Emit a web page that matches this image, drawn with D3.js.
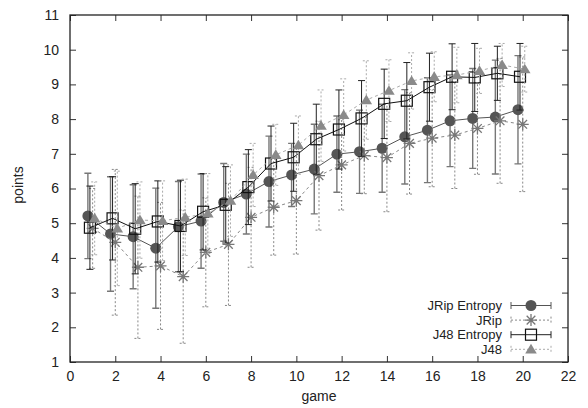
<!DOCTYPE html>
<html><head><meta charset="utf-8">
<script src="https://cdn.jsdelivr.net/npm/d3@7"></script>
<style>
html,body{margin:0;padding:0;background:#fff;}
text{font-family:"Liberation Sans",Arial,Helvetica,sans-serif;}
</style></head>
<body>
<svg id="chart" width="588" height="408"></svg>
<script>
const games = d3.range(1, 21);
const xTicks = [0,2,4,6,8,10,12,14,16,18,20,22];
const yTicks = [1,2,3,4,5,6,7,8,9,10,11];

const jripEntropyMean = [5.21,4.69,4.61,4.28,4.90,5.06,5.60,5.84,6.20,6.39,6.56,6.99,7.06,7.16,7.49,7.68,7.95,8.02,8.06,8.27];
const jripEntropyErr  = [1.23,1.65,1.50,1.73,1.30,1.36,1.12,1.15,1.31,0.91,1.29,1.10,1.20,1.27,1.36,1.51,1.32,1.44,1.64,1.56];
const jripMean = [4.85,4.45,3.73,3.77,3.46,4.16,4.39,5.17,5.46,5.65,6.37,6.68,6.95,6.89,7.30,7.45,7.54,7.73,7.95,7.85];
const jripErr  = [1.15,2.10,2.05,1.83,1.92,1.57,1.76,1.44,1.38,1.54,1.57,1.30,1.10,1.56,1.46,1.40,1.54,1.32,1.80,1.94];
const j48EntropyMean = [4.87,5.14,4.84,5.05,4.92,5.33,5.53,6.04,6.72,6.90,7.42,7.70,8.02,8.44,8.53,8.92,9.22,9.20,9.32,9.22];
const j48EntropyErr  = [1.20,1.20,1.30,1.17,1.32,1.10,1.10,1.08,1.08,0.98,1.01,1.14,1.09,1.00,1.10,0.98,0.95,0.98,0.78,0.96];
const j48Mean = [5.14,4.85,5.09,5.07,5.17,5.28,5.65,6.39,6.97,7.25,7.81,8.12,8.55,8.82,9.10,9.22,9.27,9.39,9.56,9.44];
const j48Err  = [1.05,1.65,1.10,1.15,1.10,1.15,1.03,0.91,0.88,0.84,1.03,1.04,1.13,0.89,0.81,0.72,0.80,0.65,0.62,0.66];

const seriesNames = ["JRip Entropy","JRip","J48 Entropy","J48"];
const seriesShift = [-0.21, 0, -0.12, 0.09];

const series = [
  {name: seriesNames[0], mean: jripEntropyMean, err: jripEntropyErr, shift: seriesShift[0],
   line: "#555", lineDash: null, bar: "#777", barW: 1.4, barDash: null, sym: "circle"},
  {name: seriesNames[1], mean: jripMean, err: jripErr, shift: seriesShift[1],
   line: "#888", lineDash: "3,3", bar: "#888", barW: 1, barDash: "2,2", sym: "star"},
  {name: seriesNames[2], mean: j48EntropyMean, err: j48EntropyErr, shift: seriesShift[2],
   line: "#111", lineDash: null, bar: "#222", barW: 1, barDash: null, sym: "square"},
  {name: seriesNames[3], mean: j48Mean, err: j48Err, shift: seriesShift[3],
   line: "#aaa", lineDash: "3,3", bar: "#aaa", barW: 1, barDash: "2,2", sym: "triangle"}
];

const svg = d3.select("#chart");
const L = 70, R = 568, T = 15, B = 362;
const x = d3.scaleLinear().domain([0,22]).range([L,R]);
const y = d3.scaleLinear().domain([1,11]).range([B,T]);

// axes
const ax = svg.append("g");
ax.append("g").attr("transform",`translate(0,${B})`)
  .call(d3.axisBottom(x).tickValues(xTicks).tickSize(-6).tickPadding(9).tickFormat(d3.format("d")));
ax.append("g").attr("transform",`translate(0,${T})`)
  .call(d3.axisTop(x).tickValues(xTicks).tickSize(-6).tickFormat(""));
ax.append("g").attr("transform",`translate(${L},0)`)
  .call(d3.axisLeft(y).tickValues(yTicks).tickSize(-6).tickPadding(11).tickFormat(d3.format("d")));
ax.append("g").attr("transform",`translate(${R},0)`)
  .call(d3.axisRight(y).tickValues(yTicks).tickSize(-6).tickFormat(""));
ax.selectAll(".domain").remove();
ax.selectAll(".tick line").attr("stroke","#333").attr("stroke-width",1);
ax.selectAll(".tick text").attr("fill","#222").style("font-size","14px")
  .style("font-family","'Liberation Sans',Arial,Helvetica,sans-serif");

svg.append("text").attr("x",(L+R)/2).attr("y",401).attr("text-anchor","middle")
  .attr("fill","#222").style("font-size","14px").text("game");
svg.append("text").attr("transform","translate(23,185) rotate(-90)").attr("text-anchor","middle")
  .attr("fill","#222").style("font-size","14px").text("points");

const plot = svg.append("g");

function drawSymbol(g, s, cx, cy, scale) {
  const k = scale || 1;
  if (s.sym === "circle") {
    g.append("circle").attr("cx",cx).attr("cy",cy).attr("r",5.5*k).attr("fill","#555");
  } else if (s.sym === "star") {
    const r = 6*k, d = r*0.72;
    const p = `M${cx-r},${cy}L${cx+r},${cy}M${cx},${cy-r}L${cx},${cy+r}M${cx-d},${cy-d}L${cx+d},${cy+d}M${cx-d},${cy+d}L${cx+d},${cy-d}`;
    g.append("path").attr("d",p).attr("stroke","#777").attr("stroke-width",1.3).attr("fill","none");
  } else if (s.sym === "square") {
    const h = 5.5*k;
    g.append("rect").attr("x",cx-h).attr("y",cy-h).attr("width",2*h).attr("height",2*h)
      .attr("fill","none").attr("stroke","#111").attr("stroke-width",1.2);
  } else {
    const h = 5.5*k;
    g.append("path").attr("d",`M${cx},${cy-h}L${cx+h*1.05},${cy+h*0.75}L${cx-h*1.05},${cy+h*0.75}Z`)
      .attr("fill","#8a8a8a");
  }
}

series.forEach(s => {
  const g = plot.append("g");
  const pts = games.map((gm,i) => ({x: gm + s.shift, m: s.mean[i], e: s.err[i]}));
  pts.forEach(p => {
    const px = x(p.x), y0 = y(p.m - p.e), y1 = y(p.m + p.e);
    const cap = 3.5;
    const path = `M${px},${y0}L${px},${y1}M${px-cap},${y0}L${px+cap},${y0}M${px-cap},${y1}L${px+cap},${y1}`;
    g.append("path").attr("d",path).attr("fill","none").attr("stroke",s.bar)
      .attr("stroke-width",s.barW).attr("stroke-dasharray",s.barDash);
  });
  const line = d3.line().x(p => x(p.x)).y(p => y(p.m));
  g.append("path").attr("d",line(pts)).attr("fill","none").attr("stroke",s.line)
    .attr("stroke-width",1).attr("stroke-dasharray",s.lineDash);
  pts.forEach(p => drawSymbol(g, s, x(p.x), y(p.m)));
});

svg.append("rect").attr("x",L).attr("y",T).attr("width",R-L).attr("height",B-T)
  .attr("fill","none").attr("stroke","#222").attr("stroke-width",1.3);

const lg = svg.append("g");
const rowY = [305.5, 320.1, 334.7, 349.3];
series.forEach((s,i) => {
  const cy = rowY[i];
  lg.append("text").attr("x",502).attr("y",cy).attr("dy","0.35em").attr("text-anchor","end")
    .attr("fill","#222").style("font-size","13px").text(s.name);
  const x0 = 511, x1 = 551, cap = 3.5;
  lg.append("path").attr("d",`M${x0},${cy}L${x1},${cy}M${x0},${cy-cap}L${x0},${cy+cap}M${x1},${cy-cap}L${x1},${cy+cap}`)
    .attr("fill","none").attr("stroke",s.sym==="circle"?"#555":s.bar).attr("stroke-width",1)
    .attr("stroke-dasharray",s.barDash);
  drawSymbol(lg, s, 531, cy);
});
</script>
</body></html>
